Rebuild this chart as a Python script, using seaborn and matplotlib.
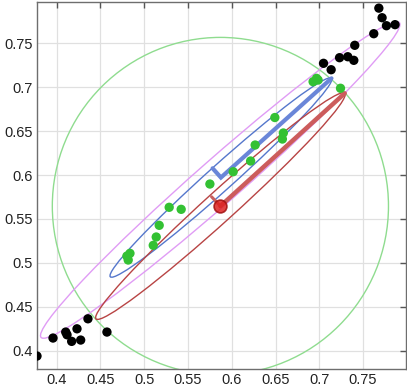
import numpy as np
import pandas as pd
import matplotlib
matplotlib.use("Agg")
import matplotlib.pyplot as plt
from matplotlib.patches import Ellipse
import seaborn as sns

# ---- data ----
black_x = [0.768, 0.7717, 0.7767, 0.7865, 0.7622, 0.7405, 0.7231, 0.7325, 0.7394,
           0.7048, 0.7135, 0.3775, 0.3958, 0.4103, 0.4118, 0.4171, 0.4232, 0.4274,
           0.4357, 0.4574]
black_y = [0.790, 0.7791, 0.770, 0.7712, 0.7609, 0.7477, 0.7336, 0.7347, 0.7306,
           0.7272, 0.7199, 0.394, 0.4145, 0.4213, 0.4182, 0.4107, 0.425, 0.4122,
           0.4364, 0.4213]

green_x = [0.6492, 0.6589, 0.6578, 0.6929, 0.6968, 0.6986, 0.7242, 0.6267, 0.6215,
           0.6016, 0.5750, 0.5285, 0.5422, 0.5171, 0.5137, 0.5103, 0.4837, 0.4817,
           0.4802]
green_y = [0.6655, 0.6479, 0.6410, 0.7063, 0.7101, 0.7082, 0.6988, 0.6342, 0.6160,
           0.6038, 0.5898, 0.5633, 0.5610, 0.5428, 0.5295, 0.5200, 0.5109, 0.5033,
           0.5078]

# ellipses: center x, center y, full width, full height, angle (deg)
ell_names = ["violet", "blue", "red"]
ell_cx = [0.5868, 0.5876, 0.5870]
ell_cy = [0.5944, 0.5972, 0.5647]
ell_w = [0.544, 0.339, 0.383]
ell_h = [0.050, 0.029, 0.034]
ell_ang = [41.2, 41.8, 42.1]

circle_c = (0.5870, 0.5647)
circle_r = 0.192

# axis lines of blue / red ellipses (minor tip -> center -> major tip)
blue_axis_x = [0.5781, 0.5876, 0.7139]
blue_axis_y = [0.6077, 0.5972, 0.7101]
red_minor_x = [0.5769, 0.5870]
red_minor_y = [0.5753, 0.5647]
red_major_x = [0.5870, 0.7291]
red_major_y = [0.5647, 0.6931]

ticks = [0.4, 0.45, 0.5, 0.55, 0.6, 0.65, 0.7, 0.75]
tick_labels = ["0.4", "0.45", "0.5", "0.55", "0.6", "0.65", "0.7", "0.75"]

# ---- plotting ----
sns.set_theme(style="white")
plt.rcParams["font.family"] = ["Liberation Sans", "DejaVu Sans"]

fig = plt.figure(figsize=(4.07, 3.91), dpi=100)
ax = fig.add_axes([0.0909, 0.0575, 0.9066, 0.9374])

ax.set_xlim(0.3775, 0.799)
ax.set_ylim(0.3798, 0.797)

ax.add_patch(Ellipse(circle_c, 2 * circle_r, 2 * circle_r, fill=False,
                     edgecolor="#8fdc8f", lw=1.0, zorder=2))
ell_colors = ["#e09cf5", "#5577cc", "#b84444"]
for cx, cy, w, h, a, c in zip(ell_cx, ell_cy, ell_w, ell_h, ell_ang, ell_colors):
    ax.add_patch(Ellipse((cx, cy), w, h, angle=a, fill=False, edgecolor=c,
                         lw=1.0, zorder=2))

ax.plot(blue_axis_x, blue_axis_y, color="#6a86d8", lw=3, zorder=3,
        solid_joinstyle="miter")
ax.plot(red_minor_x, red_minor_y, color="#c86060", lw=2.2, zorder=3)
ax.plot(red_major_x, red_major_y, color="#cc5c5c", lw=3.2, zorder=3)

df_b = pd.DataFrame({"x": black_x, "y": black_y})
df_g = pd.DataFrame({"x": green_x, "y": green_y})
sns.scatterplot(data=df_b, x="x", y="y", ax=ax, color="black", s=45,
                edgecolor="none", zorder=4)
sns.scatterplot(data=df_g, x="x", y="y", ax=ax, color="#33c133", s=45,
                edgecolor="none", zorder=4)
ax.scatter([circle_c[0]], [circle_c[1]], s=85, color="#dd2222",
           edgecolor="#a01010", linewidth=1.2, alpha=0.85, zorder=5)

ax.set_xticks(ticks)
ax.set_xticklabels(tick_labels)
ax.set_yticks(ticks)
ax.set_yticklabels(tick_labels)
ax.set_xlabel("")
ax.set_ylabel("")
ax.grid(True, color="#e0e0e0", lw=0.9)
ax.set_axisbelow(True)
ax.tick_params(direction="in", length=4, width=1, colors="#555555",
               labelcolor="#222222", labelsize=10.5, top=True, right=True,
               pad=3)
for s in ax.spines.values():
    s.set_color("#6e6e6e")
    s.set_linewidth(1.0)

fig.savefig("out.png", dpi=100)
